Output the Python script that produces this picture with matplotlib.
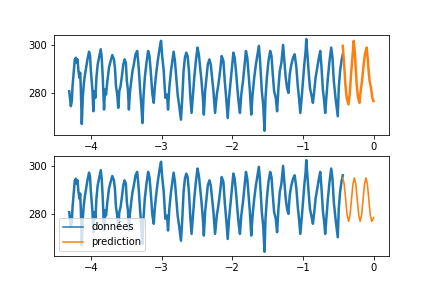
import matplotlib
matplotlib.use("Agg")
import matplotlib.pyplot as plt
import numpy as np

data_t = [-4.309, -4.286, -4.272, -4.262, -4.248, -4.230, -4.215, -4.201, -4.192, -4.178,
          -4.164, -4.154, -4.145, -4.131, -4.117, -4.103, -4.089, -4.070, -4.051, -4.028,
          -4.014, -4.004, -3.995, -3.981, -3.967, -3.953, -3.938, -3.924, -3.906, -3.882,
          -3.863, -3.849, -3.835, -3.816, -3.802, -3.788, -3.769, -3.746, -3.723, -3.699,
          -3.676, -3.662, -3.647, -3.629, -3.615, -3.600, -3.582, -3.563, -3.544, -3.525,
          -3.507, -3.493, -3.478, -3.464, -3.450, -3.431, -3.413, -3.394, -3.370, -3.347,
          -3.333, -3.319, -3.305, -3.286, -3.272, -3.258, -3.239, -3.215, -3.192, -3.173,
          -3.159, -3.145, -3.131, -3.112, -3.098, -3.079, -3.056, -3.028, -3.009, -2.995,
          -2.971, -2.948, -2.924, -2.910, -2.892, -2.868, -2.849, -2.831, -2.812, -2.793,
          -2.774, -2.751, -2.727, -2.708, -2.690, -2.671, -2.652, -2.633, -2.614, -2.596,
          -2.577, -2.558, -2.539, -2.516, -2.493, -2.474, -2.455, -2.436, -2.417, -2.403,
          -2.385, -2.366, -2.347, -2.324, -2.305, -2.286, -2.267, -2.244, -2.220, -2.197,
          -2.173, -2.150, -2.126, -2.107, -2.089, -2.065, -2.046, -2.023, -2.004, -1.985,
          -1.967, -1.948, -1.929, -1.910, -1.892, -1.873, -1.849, -1.826, -1.807, -1.788,
          -1.769, -1.751, -1.732, -1.713, -1.690, -1.666, -1.643, -1.624, -1.610, -1.596,
          -1.582, -1.563, -1.544, -1.530, -1.511, -1.488, -1.464, -1.445, -1.427, -1.408,
          -1.385, -1.366, -1.347, -1.328, -1.305, -1.281, -1.262, -1.244, -1.225, -1.206,
          -1.187, -1.164, -1.140, -1.117, -1.093, -1.075, -1.056, -1.037, -1.018, -1.000,
          -0.981, -0.962, -0.953, -0.938, -0.920, -0.901, -0.877, -0.859, -0.840, -0.821,
          -0.798, -0.774, -0.755, -0.737, -0.718, -0.699, -0.685, -0.666, -0.647, -0.624,
          -0.600, -0.582, -0.563, -0.539, -0.521, -0.507, -0.493, -0.474, -0.455, -0.436]
data_v = [280.8, 274.6, 276.7, 282.9, 287.8, 294.0, 294.7, 292.6, 294.0, 289.2,
          286.4, 288.5, 282.2, 267.2, 278.1, 283.6, 287.1, 290.6, 294.0, 297.2,
          295.4, 289.9, 286.4, 281.5, 272.5, 280.8, 278.1, 286.4, 291.9, 295.4,
          298.2, 294.7, 287.1, 273.2, 281.5, 279.4, 285.0, 290.6, 293.3, 295.8,
          294.0, 290.6, 282.9, 279.4, 273.9, 280.8, 282.9, 287.1, 291.9, 294.0,
          292.6, 285.0, 281.5, 273.2, 280.1, 285.0, 289.2, 291.9, 296.1, 297.5,
          293.3, 287.8, 281.5, 273.9, 267.6, 278.1, 286.4, 292.6, 297.5, 295.4,
          290.6, 285.0, 279.4, 276.0, 282.2, 287.8, 293.3, 298.9, 301.7, 296.1,
          289.2, 278.1, 279.4, 273.2, 282.2, 289.2, 293.3, 297.2, 293.3, 286.4,
          279.4, 274.6, 269.0, 278.1, 289.2, 294.7, 296.8, 295.4, 289.2, 279.4,
          271.8, 278.8, 286.4, 293.3, 298.9, 296.1, 290.6, 285.0, 278.1, 271.1,
          280.8, 286.4, 291.9, 294.0, 291.9, 286.4, 280.8, 271.8, 279.4, 283.6,
          289.2, 295.4, 293.3, 285.0, 278.8, 269.7, 278.1, 285.0, 290.6, 296.8,
          294.7, 289.2, 282.2, 276.0, 271.8, 279.4, 285.0, 291.9, 297.5, 294.7,
          287.8, 280.8, 271.1, 279.4, 286.4, 291.9, 296.1, 299.6, 294.7, 287.8,
          280.8, 275.3, 264.4, 278.1, 286.4, 293.3, 297.5, 295.4, 287.8, 280.8,
          278.1, 272.5, 282.2, 289.2, 292.6, 300.0, 293.3, 286.4, 282.2, 280.1,
          287.8, 291.9, 294.7, 296.1, 290.6, 283.6, 278.1, 271.8, 278.1, 285.0,
          291.9, 297.5, 302.4, 296.1, 289.2, 282.2, 278.8, 276.0, 280.8, 286.4,
          290.6, 294.7, 297.5, 290.6, 281.5, 276.7, 271.8, 279.4, 286.4, 293.3,
          298.9, 294.7, 285.0, 278.1, 273.9, 270.4, 282.2, 289.2, 293.3, 296.1]

# prediction shown in the top panel
pred_top_t = [-0.436, -0.417, -0.399, -0.380, -0.356, -0.338, -0.319, -0.300, -0.281, -0.267,
              -0.253, -0.239, -0.220, -0.201, -0.183, -0.164, -0.145, -0.122, -0.098, -0.084,
              -0.070, -0.056, -0.037, -0.018, 0.000]
pred_top_v = [299.6, 291.9, 283.6, 278.1, 275.3, 279.4, 287.8, 294.7, 301.7, 297.5,
              290.6, 283.6, 278.1, 276.0, 280.8, 285.0, 290.6, 296.1, 298.9, 294.7,
              289.2, 285.0, 282.2, 278.1, 276.7]

# smooth prediction shown in the bottom panel
pred_bot_t = [-0.436, -0.4155, -0.395, -0.3745, -0.354, -0.3335, -0.313, -0.2925, -0.272, -0.2515,
              -0.231, -0.2105, -0.190, -0.1695, -0.149, -0.1285, -0.108, -0.0875, -0.067, -0.0465,
              -0.026, -0.0055, 0.000]
pred_bot_v = [295.0, 292.4, 286.0, 279.6, 277.0, 279.6, 286.0, 292.4, 295.0, 292.4,
              286.0, 279.6, 277.0, 279.6, 286.0, 292.4, 295.0, 292.4, 286.0, 279.6,
              277.0, 278.0, 278.6]

fig, (ax1, ax2) = plt.subplots(2, 1, figsize=(6, 4), dpi=72)

ax1.plot(data_t, data_v, color="#1f77b4", lw=2.5)
ax1.plot(pred_top_t, pred_top_v, color="#ff7f0e", lw=2.5)

ax2.plot(data_t, data_v, color="#1f77b4", lw=2.5, label="données")
ax2.plot(pred_bot_t, pred_bot_v, color="#ff7f0e", lw=1.6, label="prediction")
leg = ax2.legend(loc="lower left")
for ln in leg.get_lines():
    ln.set_linewidth(1.5)

for ax in (ax1, ax2):
    ax.set_yticks([280, 300])
    ax.set_xticks([-4, -3, -2, -1, 0])

fig.savefig("out.png", dpi=72)
